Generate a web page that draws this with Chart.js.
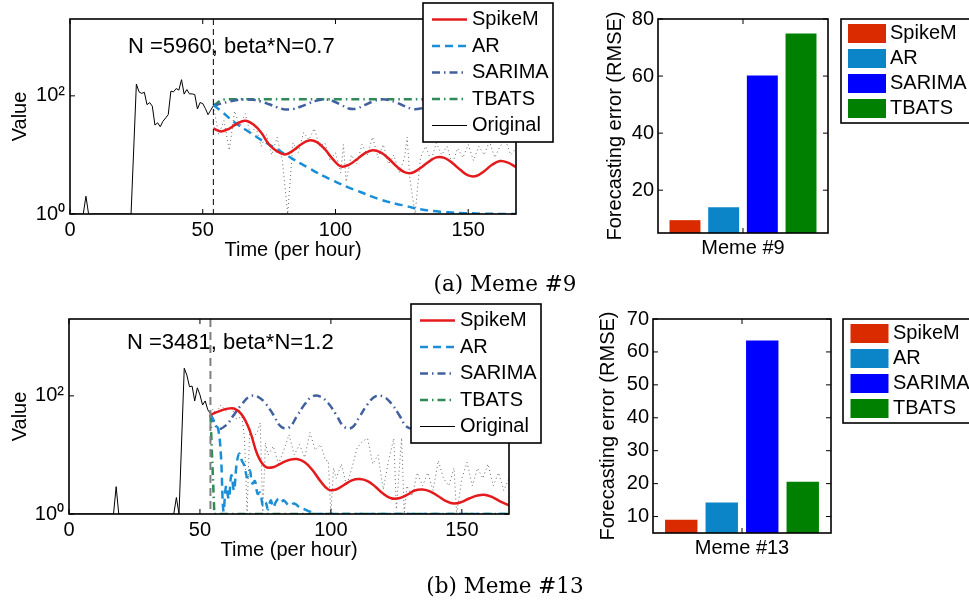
<!DOCTYPE html>
<html>
<head>
<meta charset="utf-8">
<script src="https://cdn.jsdelivr.net/npm/chart.js@4.4.1/dist/chart.umd.min.js"></script>
<style>
  html, body { margin: 0; padding: 0; background: #fff; }
  #page { position: relative; width: 969px; height: 602px; overflow: hidden; }
  canvas { position: absolute; }
  .caption {
    position: absolute;
    font-family: "DejaVu Serif", serif;
    font-size: 21.5px;
    color: #000;
    white-space: nowrap;
    transform: translate(-50%, -50%);
  }
</style>
</head>
<body>
<div id="page">
  <canvas id="trend9" width="575" height="300" style="left:0;top:0"></canvas>
  <canvas id="rmse9" width="389" height="300" style="left:580px;top:0"></canvas>
  <canvas id="trend13" width="575" height="300" style="left:0;top:300px"></canvas>
  <canvas id="rmse13" width="389" height="300" style="left:580px;top:300px"></canvas>
  <div class="caption" style="left:505px;top:283px">(a) Meme #9</div>
  <div class="caption" style="left:505px;top:585px">(b) Meme #13</div>
</div>
<script>
// ---- data ----
const methods = ['SpikeM', 'AR', 'SARIMA', 'TBATS'];

// forecasts start at hour 54, sampled every 3 hours
const forecastStart = 54;
const forecastHours = [54, 57, 60, 63, 66, 69, 72, 75, 78, 81, 84, 87, 90, 93, 96, 99, 102, 105, 108, 111,
  114, 117, 120, 123, 126, 129, 132, 135, 138, 141, 144, 147, 150, 153, 156, 159, 162, 165, 168];

// Meme #9
const spike9 = [28, 25, 28, 34, 38, 33, 24, 15, 11.5, 10.2, 11.8, 15, 17.6, 16.5, 12.5, 8.5, 6.4, 6.8, 8.4, 10.6,
  12, 11, 8.7, 6.4, 5.1, 5, 6, 7.6, 9.1, 8.9, 7.3, 5.6, 4.5, 4.4, 5.3, 6.8, 7.9, 7.4, 6.2];
const ar9 = [70, 55, 42, 33, 27, 22, 18, 15, 12.5, 10.3, 8.5, 7.1, 6, 5, 4.3, 3.7, 3.2, 2.8, 2.5, 2.2,
  1.95, 1.75, 1.6, 1.48, 1.38, 1.28, 1.2, 1.15, 1.11, 1.08, 1.06, 1.04, 1.03, 1.02, 1.01, 1.01, 1, 1, 1];
const sarima9 = [68, 74, 80, 85, 87, 86, 80, 72, 64, 59, 60, 66, 75, 83, 87, 82, 71, 61, 61, 70,
  80, 87, 85, 77, 67, 60, 61, 68, 78, 86, 86, 78, 68, 61, 62, 70, 80, 86, 85];
const tbats9 = [68, 86, 88, 88, 88, 88, 88, 88, 88, 88, 88, 88, 88, 88, 88, 88, 88, 88, 88, 88,
  88, 88, 88, 88, 88, 88, 88, 88, 88, 88, 88, 88, 88, 88, 88, 88, 88, 88, 88];
const origHours9 = [0, 5, 6, 7, 23, 25, 26, 27, 28, 29, 30, 31, 32, 33, 34, 35, 37, 38, 39, 40, 41, 42, 43, 44, 45,
  46, 47, 48, 49, 50, 51, 52, 53, 54,
  56, 58, 60, 62, 64, 66, 68, 70, 72, 74, 76, 78, 80, 82, 84, 86, 88, 90, 92, 94, 96, 98, 100, 102,
  103, 104, 106, 108, 110, 112, 114, 116, 118, 120, 122, 124, 126, 127, 128,
  130, 132, 134, 136, 138, 140, 142, 144, 146, 148, 150, 152, 154, 156, 158, 160, 162, 164, 166, 168];
const orig9 = [1, 1, 2, 1, 1, 158, 117, 110, 115, 71, 77, 67, 32, 35, 30, 37, 48, 120, 117, 133, 125, 188, 107, 128, 108,
  108, 105, 60, 77, 74, 61, 48, 57, 68,
  22, 38, 12, 55, 30, 50, 22, 30, 14, 22, 10, 20, 8, 1, 16, 11, 24, 18, 28, 14, 16, 8, 11, 5,
  15, 3.5, 10, 7, 15, 10, 20, 9, 15, 7, 10, 5, 9, 20, 4,
  1, 9, 14, 8, 16, 10, 14, 7, 13, 9, 15, 8, 14, 10, 17, 9, 14, 18, 10, 13];
const rmse9 = [9.5, 14, 60.2, 74.9];

// Meme #13
const spike13 = [48, 54, 60, 61, 48, 26, 10, 6.3, 6.2, 7.2, 8.2, 8.5, 7.5, 5.5, 3.6, 2.6, 2.6, 3.1, 3.7, 3.9,
  3.6, 2.9, 2.2, 1.85, 1.85, 2.1, 2.5, 2.6, 2.4, 2, 1.65, 1.5, 1.6, 1.85, 2.05, 2.1, 1.9, 1.6, 1.4];
const sarima13 = [48, 28, 32, 48, 72, 98, 97, 75, 48, 30, 29, 45, 72, 98, 97, 75, 48, 30, 29, 45,
  72, 98, 97, 75, 48, 30, 29, 45, 72, 98, 97, 75, 48, 30, 29, 45, 72, 98, 97];
const arHours13 = [54, 55, 56, 57, 58, 59, 60, 61, 62, 63, 64, 65, 66, 67, 68, 69, 70, 71, 72, 73, 74, 75, 76, 77,
  78, 79, 80, 81, 82, 84, 86, 88, 90, 92, 95, 168];
const ar13 = [48, 40, 33, 27, 10, 1.1, 3, 1.8, 4.5, 2.5, 7, 10.5, 8, 6.5, 4.2, 5.5, 3.3, 3.6, 2.2, 2.3, 1.4, 1.6, 1.2, 1.7,
  1.3, 1.6, 1.8, 1.6, 1.7, 1.4, 1.5, 1.3, 1.2, 1.1, 1, 1];
const tbatsHours13 = [54, 55.5, 168];
const tbats13 = [48, 1, 1];
const origHours13 = [0, 17, 18, 19, 40, 41, 42, 44, 45, 46, 47, 48, 49, 50, 51, 52, 53, 54,
  55, 56, 58, 60, 62, 64, 66, 67, 68, 69, 70, 72, 73, 74, 75, 76, 78, 80, 82, 84, 86, 88, 90, 92, 94, 96, 98,
  99, 100, 101, 102, 104, 106, 108, 110, 112, 114, 116, 118, 120, 122, 124, 125, 126, 127, 128, 129,
  131, 133, 135, 137, 139, 141, 143, 145, 147, 148, 150, 152, 154, 156, 158, 160, 162, 164, 166, 168];
const orig13 = [1, 1, 2.9, 1, 1, 1.9, 1, 294, 225, 143, 146, 82, 137, 104, 70, 82, 58, 50,
  60, 50, 70, 55, 65, 40, 45, 20, 1, 28, 18, 25, 35, 1, 16, 10, 14, 7, 12, 22, 10, 15, 9, 24, 12, 15, 8,
  8, 1, 6, 4, 7, 3, 6, 13, 17, 19, 7, 10, 2.6, 8, 19, 1.2, 5, 19.5, 1, 3,
  2, 5, 3, 5, 2.5, 8, 4, 3, 6, 1, 4, 7.5, 3, 6, 4, 7, 3, 5, 2.5, 4];
const rmse13 = [9, 14.3, 63.5, 20.6];

const timeTicks = [0, 50, 100, 150];

// ---- styling ----
const FAMILY = '"Liberation Sans", Arial, Helvetica, sans-serif';
Chart.defaults.font.family = FAMILY;
Chart.defaults.font.size = 20;
Chart.defaults.color = '#000';

const LINE_COLORS = { SpikeM: '#e41a1c', AR: '#1a8ed6', SARIMA: '#40609e', TBATS: '#2e8b57' };
const BAR_COLORS = ['#da2a00', '#0b85c8', '#0000ff', '#008000'];

const pts = (xs, ys) => xs.map((x, i) => ({ x: x, y: ys[i] }));

// box around the plot with inward tick marks on all four sides
const boxFrame = {
  id: 'boxFrame',
  afterDatasetsDraw(chart) {
    const { ctx, chartArea: a, scales } = chart;
    ctx.save();
    ctx.strokeStyle = '#000';
    ctx.lineWidth = 1;
    ctx.beginPath();
    scales.x.ticks.forEach((t, i) => {
      const px = scales.x.getPixelForTick(i);
      ctx.moveTo(px, a.bottom); ctx.lineTo(px, a.bottom - 5);
      ctx.moveTo(px, a.top); ctx.lineTo(px, a.top + 5);
    });
    scales.y.ticks.forEach(t => {
      const py = scales.y.getPixelForValue(t.value);
      ctx.moveTo(a.left, py); ctx.lineTo(a.left + 5, py);
      ctx.moveTo(a.right, py); ctx.lineTo(a.right - 5, py);
    });
    ctx.stroke();
    ctx.lineWidth = 1.6;
    ctx.strokeRect(a.left, a.top, a.right - a.left, a.bottom - a.top);
    ctx.restore();
  }
};

// framed legend drawn over the plot
const boxLegend = {
  id: 'boxLegend',
  afterDraw(chart, args, o) {
    const ctx = chart.ctx;
    ctx.save();
    ctx.fillStyle = '#fff';
    ctx.fillRect(o.x, o.y, o.w, o.h);
    ctx.strokeStyle = '#000';
    ctx.lineWidth = 1.6;
    ctx.strokeRect(o.x, o.y, o.w, o.h);
    ctx.font = '20px ' + FAMILY;
    ctx.textBaseline = 'middle';
    chart.data.datasets.forEach((ds, i) => {
      const cy = o.y + o.first + i * o.step;
      if (o.patch) {
        ctx.fillStyle = ds.backgroundColor;
        ctx.fillRect(o.x + o.sampleX, cy - o.patch / 2, o.sampleW, o.patch);
      } else {
        ctx.strokeStyle = ds.borderColor;
        ctx.lineWidth = ds.borderWidth;
        ctx.setLineDash(ds.borderDash || []);
        ctx.beginPath();
        ctx.moveTo(o.x + o.sampleX, cy);
        ctx.lineTo(o.x + o.sampleX + o.sampleW, cy);
        ctx.stroke();
        ctx.setLineDash([]);
      }
      ctx.fillStyle = '#000';
      ctx.fillText(ds.label, o.x + o.textX, cy);
    });
    ctx.restore();
  }
};

// parameter note and the dashed line where the forecast starts
const forecastMark = {
  id: 'forecastMark',
  beforeDatasetsDraw(chart, args, o) {
    const ctx = chart.ctx;
    ctx.save();
    ctx.font = '22px ' + FAMILY;
    ctx.fillStyle = '#000';
    ctx.textBaseline = 'middle';
    ctx.fillText(o.text, o.textX, o.textY);
    ctx.restore();
  },
  afterDatasetsDraw(chart, args, o) {
    const { ctx, chartArea: a } = chart;
    const x = chart.scales.x.getPixelForValue(forecastStart);
    ctx.save();
    ctx.strokeStyle = o.color;
    ctx.lineWidth = o.width;
    ctx.setLineDash(o.dash);
    ctx.beginPath();
    ctx.moveTo(x, a.top);
    ctx.lineTo(x, a.bottom);
    ctx.stroke();
    ctx.restore();
  }
};

function trendChart(id, d) {
  const smooth = { pointRadius: 0, borderWidth: 2.5, tension: 0.4 };
  return new Chart(document.getElementById(id), {
    type: 'line',
    data: {
      datasets: [
        Object.assign({ label: 'SpikeM', data: pts(forecastHours, d.spike), borderColor: LINE_COLORS.SpikeM }, smooth),
        Object.assign({ label: 'AR', data: pts(d.arHours, d.ar), borderColor: LINE_COLORS.AR,
          borderDash: [8, 5] }, smooth),
        Object.assign({ label: 'SARIMA', data: pts(forecastHours, d.sarima), borderColor: LINE_COLORS.SARIMA,
          borderDash: [8, 4, 1.5, 4] }, smooth),
        Object.assign({ label: 'TBATS', data: pts(d.tbatsHours, d.tbats), borderColor: LINE_COLORS.TBATS,
          borderDash: [8, 4, 1.5, 4] }, smooth, { tension: 0 }),
        {
          label: 'Original', data: pts(d.origHours, d.orig), borderColor: '#000', borderWidth: 1,
          pointRadius: 0, tension: 0,
          // observed counts after the cut are drawn dotted
          segment: {
            borderDash: c => c.p0.parsed.x >= forecastStart ? [1, 3] : undefined,
            borderColor: c => c.p0.parsed.x >= forecastStart ? '#666' : undefined
          }
        }
      ]
    },
    plugins: [forecastMark, boxFrame, boxLegend],
    options: {
      responsive: false,
      animation: false,
      devicePixelRatio: 1,
      layout: { padding: { left: 0, top: 19, right: d.padRight, bottom: 30 } },
      plugins: {
        legend: { display: false },
        tooltip: { enabled: false },
        forecastMark: d.mark,
        boxLegend: Object.assign({ w: 130, h: 139, first: 16.5, step: 26.5, sampleX: 9, sampleW: 35, textX: 49 }, d.legend)
      },
      scales: {
        x: {
          type: 'linear', min: 0, max: 168,
          afterBuildTicks: s => { s.ticks = timeTicks.map(v => ({ value: v })); },
          afterFit: s => { s.height = 56; },
          grid: { display: false, drawTicks: false },
          border: { display: false },
          ticks: { padding: 4, maxRotation: 0 },
          title: { display: true, text: 'Time (per hour)', padding: { top: 0, bottom: 8 } }
        },
        y: {
          type: 'logarithmic', min: 1, max: 2000,
          afterBuildTicks: s => { s.ticks = [{ value: 1 }, { value: 100 }]; },
          afterFit: s => { s.width = d.yWidth; },
          grid: { display: false, drawTicks: false },
          border: { display: false },
          ticks: { padding: 5, callback: v => v === 1 ? '10\u2070' : '10\u00b2' },
          title: { display: true, text: 'Value', padding: { top: 8, bottom: 0 } }
        }
      }
    }
  });
}

function rmseChart(id, label, values, d) {
  return new Chart(document.getElementById(id), {
    type: 'bar',
    data: {
      labels: [label],
      datasets: methods.map((m, i) => ({
        label: m, data: [values[i]], backgroundColor: BAR_COLORS[i],
        categoryPercentage: 0.91, barPercentage: 0.8
      }))
    },
    plugins: [boxFrame, boxLegend],
    options: {
      responsive: false,
      animation: false,
      devicePixelRatio: 1,
      layout: { padding: { left: 0, top: 19, right: d.padRight, bottom: 27 } },
      plugins: {
        legend: { display: false },
        tooltip: { enabled: false },
        boxLegend: Object.assign({ y: 19, w: 140, h: 104, first: 14.5, step: 25, patch: 19, sampleW: 38 }, d.legend)
      },
      scales: {
        x: {
          afterFit: s => { s.height = 40; },
          grid: { display: false, drawTicks: false },
          border: { display: false },
          ticks: { padding: 3 }
        },
        y: {
          min: 5, max: d.yMax,
          afterBuildTicks: s => { s.ticks = d.yTicks.map(v => ({ value: v })); },
          afterFit: s => { s.width = d.yWidth; },
          grid: { display: false, drawTicks: false },
          border: { display: false },
          ticks: { padding: 4 },
          title: { display: true, text: 'Forecasting error (RMSE)', padding: { top: d.titlePad, bottom: 0 } }
        }
      }
    }
  });
}

trendChart('trend9', {
  spike: spike9, ar: ar9, arHours: forecastHours, sarima: sarima9, tbats: tbats9, tbatsHours: forecastHours,
  orig: orig9, origHours: origHours9, yWidth: 70, padRight: 59,
  mark: { text: 'N =5960, beta*N=0.7', textX: 128, textY: 47, color: '#000', width: 1, dash: [6, 4] },
  legend: { x: 423, y: 3 }
});
trendChart('trend13', {
  spike: spike13, ar: ar13, arHours: arHours13, sarima: sarima13, tbats: tbats13, tbatsHours: tbatsHours13,
  orig: orig13, origHours: origHours13, yWidth: 69, padRight: 66,
  mark: { text: 'N =3481, beta*N=1.2', textX: 127, textY: 43, color: '#808080', width: 2, dash: [8, 5] },
  legend: { x: 411, y: 4 }
});
rmseChart('rmse9', 'Meme #9', rmse9, {
  yMax: 80, yTicks: [20, 40, 60, 80], yWidth: 78, padRight: 141, titlePad: 23,
  legend: { x: 261, sampleX: 7, textX: 49 }
});
rmseChart('rmse13', 'Meme #13', rmse13, {
  yMax: 70, yTicks: [10, 20, 30, 40, 50, 60, 70], yWidth: 73, padRight: 138, titlePad: 16,
  legend: { x: 263, sampleX: 7.5, textX: 50 }
});
</script>
</body>
</html>
